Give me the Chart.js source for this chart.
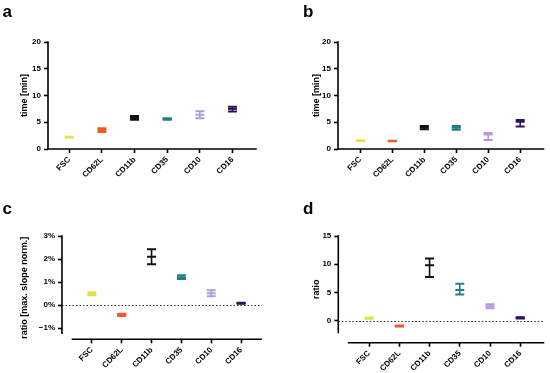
<!DOCTYPE html>
<html>
<head>
<meta charset="utf-8">
<script src="https://cdn.jsdelivr.net/npm/chart.js@4"></script>
<style>
  body { margin: 0; background: #fff; }
  #wrap { position: relative; width: 550px; height: 373px; }
  canvas { position: absolute; }
  .lbl { position: absolute; font: bold 17px Arial, "Liberation Sans", sans-serif; line-height: 17px; color: #000; }
</style>
</head>
<body>
<div id="wrap">
  <canvas id="chartA" width="275" height="186" style="left:0;top:0"></canvas>
  <canvas id="chartB" width="275" height="186" style="left:275px;top:0"></canvas>
  <canvas id="chartC" width="275" height="187" style="left:0;top:186px"></canvas>
  <canvas id="chartD" width="275" height="187" style="left:275px;top:186px"></canvas>
  <div class="lbl" style="left:2.5px;top:2.5px">a</div>
  <div class="lbl" style="left:303px;top:2.5px">b</div>
  <div class="lbl" style="left:2.5px;top:199.5px">c</div>
  <div class="lbl" style="left:303px;top:199.5px">d</div>
</div>
<script>
// data
const categories = ['FSC', 'CD62L', 'CD11b', 'CD35', 'CD10', 'CD16'];
const markerColors = ['#e4e04e', '#f15a24', '#111111', '#1e7f86', '#b39ae0', '#2d1456'];

// a: time [min]
const aMean = [2.2, 3.55, 5.8, 5.6, 6.4, 7.5];
const aLow  = [2.15, 3.2, 5.45, 5.45, 5.75, 7.0];
const aHigh = [2.3, 3.9, 6.15, 5.75, 7.05, 7.9];
// b: time [min]
const bMean = [1.55, 1.5, 4.0, 3.95, 2.7, 5.1];
const bLow  = [1.5, 1.45, 3.7, 3.6, 1.7, 4.2];
const bHigh = [1.6, 1.55, 4.3, 4.3, 3.0, 5.4];
// c: ratio [max. slope norm.] in %
const cMean = [0.49, -0.43, 2.1, 1.21, 0.51, 0.08];
const cLow  = [0.42, -0.48, 1.77, 1.13, 0.38, 0.06];
const cHigh = [0.56, -0.38, 2.42, 1.29, 0.64, 0.1];
// d: ratio
const dMean = [0.45, -0.95, 9.8, 5.45, 2.57, 0.5];
const dLow  = [0.35, -1.05, 7.75, 4.65, 2.2, 0.4];
const dHigh = [0.55, -0.85, 11.0, 6.55, 2.93, 0.6];

// tick labels
const timeTicks = [0, 5, 10, 15, 20];
const pctTicks = [-1, 0, 1, 2, 3];
const pctLabels = ['\u22121%', '0%', '1%', '2%', '3%'];
const ratioTicks = [0, 5, 10, 15];

Chart.defaults.font.family = 'Arial, "Liberation Sans", sans-serif';
Chart.defaults.color = '#000';

// prism-like axes, zero line and error bars
const prismBits = {
  id: 'prismBits',
  beforeDatasetsDraw(chart, args, o) {
    if (!o.zero) return;
    const {ctx, chartArea, scales: {y}} = chart;
    const py = Math.round(y.getPixelForValue(0)) + 0.5;
    ctx.save();
    ctx.strokeStyle = '#333';
    ctx.lineWidth = 1;
    ctx.setLineDash([1.5, 2]);
    ctx.beginPath();
    ctx.moveTo(chartArea.left, py);
    ctx.lineTo(chartArea.right, py);
    ctx.stroke();
    ctx.restore();
  },
  afterDatasetsDraw(chart, args, o) {
    const {ctx, chartArea, scales: {x, y}} = chart;
    const ds = chart.data.datasets[0];
    ctx.save();
    ds.errLow.forEach((lo, i) => {
      const px = x.getPixelForValue(i);
      const y1 = y.getPixelForValue(lo);
      const y2 = y.getPixelForValue(ds.errHigh[i]);
      ctx.strokeStyle = markerColors[i];
      ctx.lineWidth = 1.6;
      ctx.beginPath();
      ctx.moveTo(px, y1); ctx.lineTo(px, y2);
      ctx.stroke();
      ctx.lineWidth = 2;
      ctx.beginPath();
      ctx.moveTo(px - 4.5, y1); ctx.lineTo(px + 4.5, y1);
      ctx.moveTo(px - 4.5, y2); ctx.lineTo(px + 4.5, y2);
      ctx.stroke();
    });
    // axis lines
    ctx.strokeStyle = '#000';
    ctx.lineWidth = 1.6;
    ctx.lineCap = 'square';
    ctx.beginPath();
    ctx.moveTo(chartArea.left, y.getPixelForValue(o.yLine[1]));
    ctx.lineTo(chartArea.left, y.getPixelForValue(o.yLine[0]));
    ctx.moveTo(x.getPixelForValue(o.xLine[0]), chartArea.bottom);
    ctx.lineTo(x.getPixelForValue(o.xLine[1]), chartArea.bottom);
    ctx.stroke();
    ctx.restore();
  }
};

function panel(id, mean, low, high, cfg) {
  new Chart(document.getElementById(id), {
    type: 'scatter',
    data: {
      datasets: [{
        data: categories.map((c, i) => ({x: i, y: mean[i]})),
        pointStyle: 'line',
        pointRadius: 4.5,
        pointHoverRadius: 4.5,
        pointBorderWidth: 2,
        pointBorderColor: markerColors,
        backgroundColor: markerColors,
        errLow: low,
        errHigh: high
      }]
    },
    plugins: [prismBits],
    options: {
      responsive: false,
      animation: false,
      layout: { padding: cfg.pad },
      plugins: {
        legend: { display: false },
        tooltip: { enabled: false },
        prismBits: { zero: cfg.zero, xLine: cfg.xLine, yLine: cfg.yLine }
      },
      scales: {
        x: {
          type: 'linear',
          min: cfg.xMin,
          max: cfg.xMax,
          afterFit: s => { s.height = cfg.xH; },
          afterBuildTicks: s => { s.ticks = categories.map((c, i) => ({value: i})); },
          border: { display: false },
          grid: { drawOnChartArea: false, tickLength: 4, tickWidth: 1.6, tickColor: '#000' },
          ticks: {
            callback: v => categories[v],
            minRotation: 45,
            maxRotation: 45,
            autoSkip: false,
            padding: 2,
            font: { size: 8, weight: 'bold' }
          }
        },
        y: {
          min: cfg.yMin,
          max: cfg.yMax,
          afterFit: s => { s.width = cfg.yW; },
          afterBuildTicks: s => { s.ticks = cfg.yTicks.map(v => ({value: v})); },
          border: { display: false },
          grid: { drawOnChartArea: false, tickLength: 4, tickWidth: 1.6, tickColor: '#000' },
          ticks: {
            callback: (v, i) => cfg.yLabels ? cfg.yLabels[i] : v,
            padding: 3,
            font: { size: 8, weight: 'bold' }
          },
          title: {
            display: true,
            text: cfg.title,
            font: { size: 9, weight: 'bold' },
            padding: { top: cfg.titlePad, bottom: 0 }
          }
        }
      }
    }
  });
}

panel('chartA', aMean, aLow, aHigh, {
  pad: {left: 0, top: 42, right: 19, bottom: 0}, yW: 48, xH: 37,
  xMin: -0.65, xMax: 5.72, yMin: 0, yMax: 20, yTicks: timeTicks,
  xLine: [-0.65, 5.72], yLine: [0, 20], zero: false,
  title: 'time [min]', titlePad: 19.5
});

panel('chartB', bMean, bLow, bHigh, {
  pad: {left: 0, top: 42, right: 1, bottom: 0}, yW: 63, xH: 37,
  xMin: -0.7, xMax: 5.73, yMin: 0, yMax: 20, yTicks: timeTicks,
  xLine: [-0.7, 5.73], yLine: [0, 20], zero: false,
  title: 'time [min]', titlePad: 36
});

panel('chartC', cMean, cLow, cHigh, {
  pad: {left: 0, top: 50, right: 13, bottom: 0}, yW: 62, xH: 33.7,
  xMin: -1.0, xMax: 5.7, yMin: -1.49, yMax: 3, yTicks: pctTicks, yLabels: pctLabels,
  xLine: [-0.65, 5.67], yLine: [-1.22, 3], zero: true,
  title: 'ratio [max. slope norm.]', titlePad: 19.5
});

panel('chartD', dMean, dLow, dHigh, {
  pad: {left: 0, top: 50, right: 1, bottom: 0}, yW: 63.3, xH: 30.3,
  xMin: -1.02, xMax: 5.77, yMin: -3.9, yMax: 15, yTicks: ratioTicks,
  xLine: [-0.68, 5.77], yLine: [-2.1, 15], zero: true,
  title: 'ratio', titlePad: 36
});
</script>
</body>
</html>
